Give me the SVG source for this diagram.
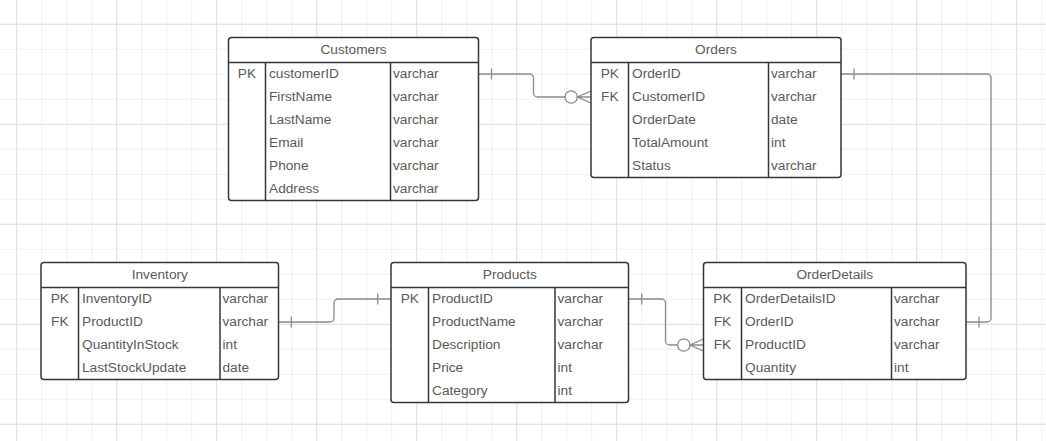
<svg xmlns="http://www.w3.org/2000/svg" width="1046" height="441" viewBox="0 0 1046 441">
<defs>
<pattern id="minor" x="16.2" y="23.8" width="25" height="25" patternUnits="userSpaceOnUse">
<rect x="0" y="0" width="1" height="25" fill="#efefef"/>
<rect x="0" y="0" width="25" height="1" fill="#efefef"/>
</pattern>
<pattern id="major" x="16.2" y="23.8" width="100" height="100" patternUnits="userSpaceOnUse">
<rect x="0" y="0" width="1" height="100" fill="#e1e1e1"/>
<rect x="0" y="0" width="100" height="1" fill="#e1e1e1"/>
</pattern>
<style>
.box{fill:#ffffff;stroke:#33363d;stroke-width:1.5}
.ln{stroke:#33363d;stroke-width:1.5;fill:none}
text{font-family:"Liberation Sans",Arial,sans-serif;font-size:13.7px;fill:#5a5a5a}
.c{text-anchor:middle}
.con{fill:none;stroke:#8a8a8a;stroke-width:1.3}
.circ{fill:#ffffff;stroke:#8a8a8a;stroke-width:1.3}
</style>
</defs>
<rect width="1046" height="441" fill="#ffffff"/>
<rect width="1046" height="441" fill="url(#minor)"/>
<rect width="1046" height="441" fill="url(#major)"/>

<g id="connectors">
<!-- Customers -> Orders -->
<path class="con" d="M478.5,74 H529.5 a4,4 0 0 1 4,4 V93 a4,4 0 0 0 4,4 H565"/>
<path class="con" d="M491.5,68.5 V79.5"/>
<circle class="circ" cx="571.2" cy="97" r="6.2"/>
<path class="con" d="M591,91 L577.4,97 L591,103 M577.4,97 H591"/>
<!-- Orders -> OrderDetails -->
<path class="con" d="M841,74 H987 a4,4 0 0 1 4,4 V318 a4,4 0 0 1 -4,4 H966"/>
<path class="con" d="M854,68.5 V79.5 M979,316.5 V327.5"/>
<!-- Products -> OrderDetails -->
<path class="con" d="M628.5,299 H661.5 a4,4 0 0 1 4,4 V341 a4,4 0 0 0 4,4 H677.6"/>
<path class="con" d="M641.7,293.5 V304.5"/>
<circle class="circ" cx="683.8" cy="345" r="6.2"/>
<path class="con" d="M703.5,339 L690,345 L703.5,351 M690,345 H703.5"/>
<!-- Inventory -> Products -->
<path class="con" d="M278.5,322 H330 a4,4 0 0 0 4,-4 V303 a4,4 0 0 1 4,-4 H391"/>
<path class="con" d="M291.3,316.5 V327.5 M377.7,293.5 V304.5"/>
</g>

<g id="Customers">
<rect class="box" x="228.5" y="37.5" width="250" height="163" rx="3"/>
<path class="ln" d="M228.5,62.5 H478.5 M265.5,62.5 V200.5 M390.5,62.5 V200.5"/>
<text class="c" x="353.5" y="53.5">Customers</text>
<text class="c" x="247" y="77.5">PK</text>
<text x="269" y="77.5">customerID</text><text x="393" y="77.5">varchar</text>
<text x="269" y="100.5">FirstName</text><text x="393" y="100.5">varchar</text>
<text x="269" y="123.5">LastName</text><text x="393" y="123.5">varchar</text>
<text x="269" y="146.5">Email</text><text x="393" y="146.5">varchar</text>
<text x="269" y="169.5">Phone</text><text x="393" y="169.5">varchar</text>
<text x="269" y="192.5">Address</text><text x="393" y="192.5">varchar</text>
</g>

<g id="Orders">
<rect class="box" x="591" y="37.5" width="250" height="140" rx="3"/>
<path class="ln" d="M591,62.5 H841 M628.5,62.5 V177.5 M768.5,62.5 V177.5"/>
<text class="c" x="716" y="53.5">Orders</text>
<text class="c" x="609.8" y="77.5">PK</text>
<text class="c" x="609.8" y="100.5">FK</text>
<text x="632" y="77.5">OrderID</text><text x="771" y="77.5">varchar</text>
<text x="632" y="100.5">CustomerID</text><text x="771" y="100.5">varchar</text>
<text x="632" y="123.5">OrderDate</text><text x="771" y="123.5">date</text>
<text x="632" y="146.5">TotalAmount</text><text x="771" y="146.5">int</text>
<text x="632" y="169.5">Status</text><text x="771" y="169.5">varchar</text>
</g>

<g id="Inventory">
<rect class="box" x="41" y="262.5" width="237.5" height="117" rx="3"/>
<path class="ln" d="M41,287.5 H278.5 M78.5,287.5 V379.5 M220,287.5 V379.5"/>
<text class="c" x="159.8" y="278.5">Inventory</text>
<text class="c" x="59.8" y="302.5">PK</text>
<text class="c" x="59.8" y="325.5">FK</text>
<text x="82" y="302.5">InventoryID</text><text x="222.5" y="302.5">varchar</text>
<text x="82" y="325.5">ProductID</text><text x="222.5" y="325.5">varchar</text>
<text x="82" y="348.5">QuantityInStock</text><text x="222.5" y="348.5">int</text>
<text x="82" y="371.5">LastStockUpdate</text><text x="222.5" y="371.5">date</text>
</g>

<g id="Products">
<rect class="box" x="391" y="262.5" width="237.5" height="140" rx="3"/>
<path class="ln" d="M391,287.5 H628.5 M428.5,287.5 V402.5 M555,287.5 V402.5"/>
<text class="c" x="509.8" y="278.5">Products</text>
<text class="c" x="409.8" y="302.5">PK</text>
<text x="432" y="302.5">ProductID</text><text x="557.5" y="302.5">varchar</text>
<text x="432" y="325.5">ProductName</text><text x="557.5" y="325.5">varchar</text>
<text x="432" y="348.5">Description</text><text x="557.5" y="348.5">varchar</text>
<text x="432" y="371.5">Price</text><text x="557.5" y="371.5">int</text>
<text x="432" y="394.5">Category</text><text x="557.5" y="394.5">int</text>
</g>

<g id="OrderDetails">
<rect class="box" x="703.5" y="262.5" width="262.5" height="117" rx="3"/>
<path class="ln" d="M703.5,287.5 H966 M741.5,287.5 V379.5 M891.5,287.5 V379.5"/>
<text class="c" x="834.8" y="278.5">OrderDetails</text>
<text class="c" x="722.5" y="302.5">PK</text>
<text class="c" x="722.5" y="325.5">FK</text>
<text class="c" x="722.5" y="348.5">FK</text>
<text x="745" y="302.5">OrderDetailsID</text><text x="894" y="302.5">varchar</text>
<text x="745" y="325.5">OrderID</text><text x="894" y="325.5">varchar</text>
<text x="745" y="348.5">ProductID</text><text x="894" y="348.5">varchar</text>
<text x="745" y="371.5">Quantity</text><text x="894" y="371.5">int</text>
</g>
</svg>
